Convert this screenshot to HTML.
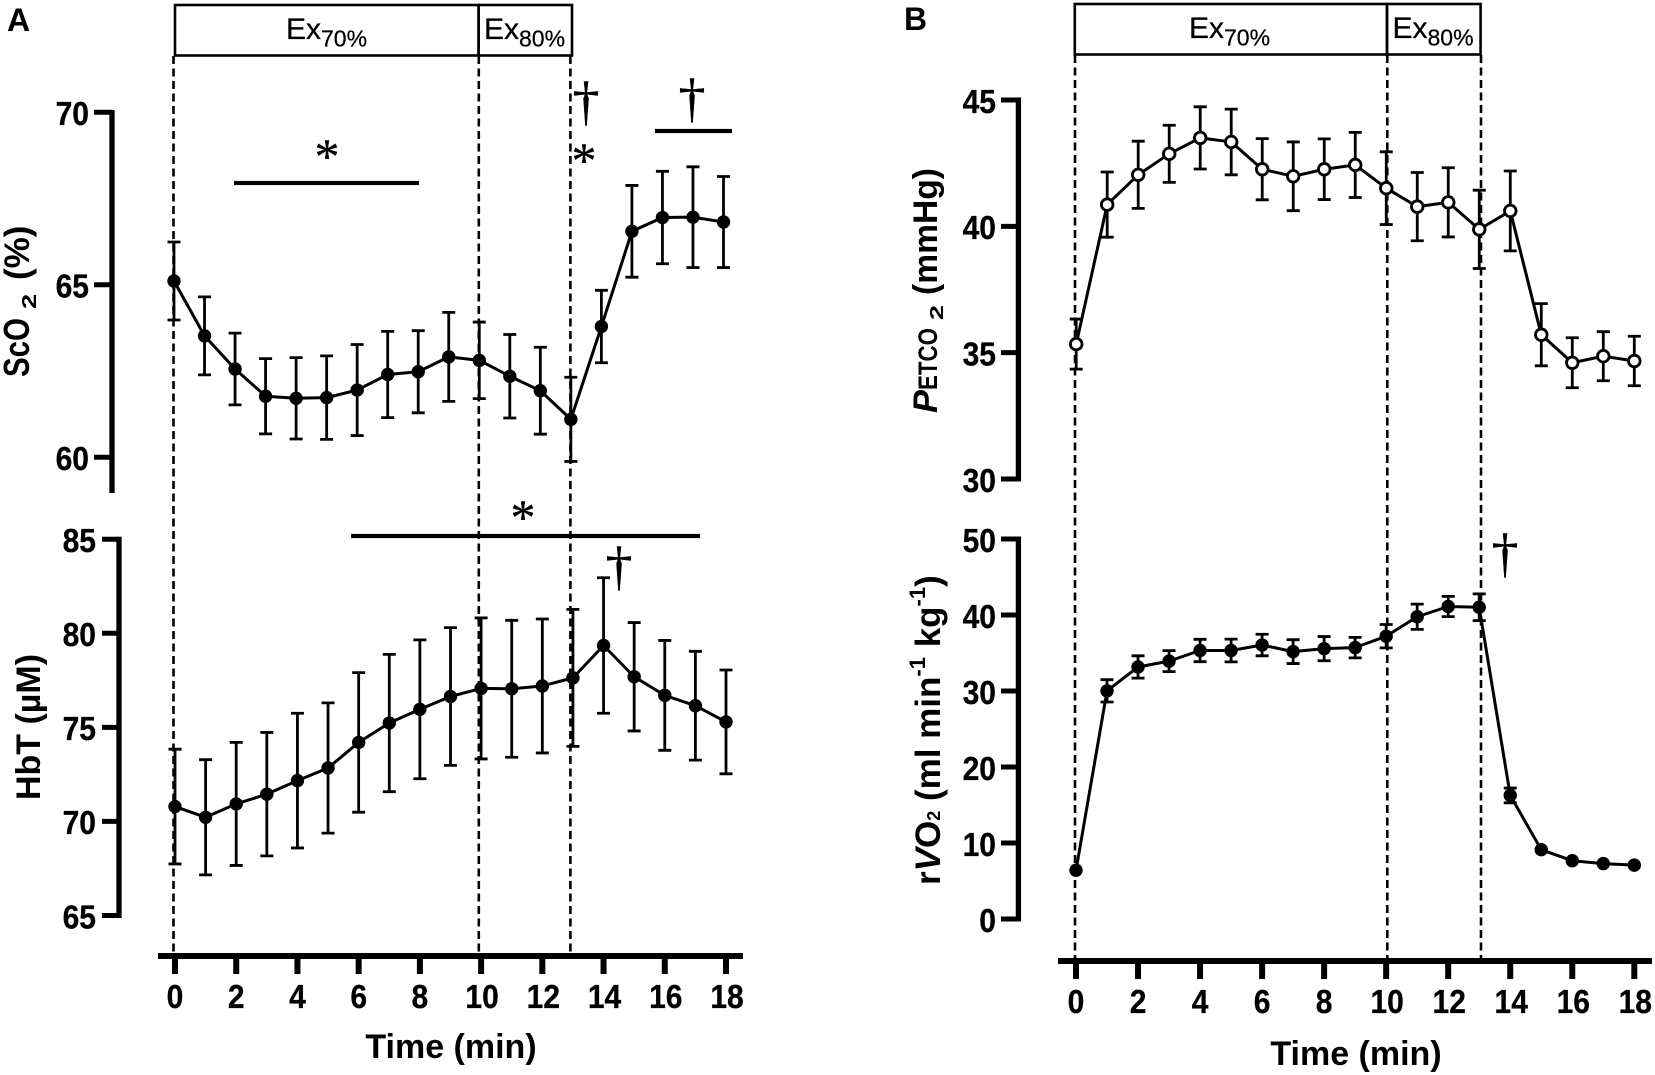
<!DOCTYPE html>
<html lang="en">
<head>
<meta charset="utf-8">
<title>ScO2, HbT, PETCO2 and rVO2 over time</title>
<style>
html,body{margin:0;padding:0;background:#fff;}
svg{display:block;}
text{font-family:"Liberation Sans",Arial,sans-serif;fill:#000;}
.tick{font-size:33px;font-weight:bold;stroke:#000;stroke-width:.3px;}
.title{font-size:34px;font-weight:bold;}
.mark{font-family:"Liberation Serif","Times New Roman",serif;text-anchor:middle;stroke:#000;stroke-width:.4px;}
.ex{font-size:30px;stroke:#000;stroke-width:.25px;}
</style>
</head>
<body>
<svg id="chart" xmlns="http://www.w3.org/2000/svg" width="1655" height="1075" viewBox="0 0 1655 1075">
  <rect x="0" y="0" width="1655" height="1075" fill="#fff"/>

  <text x="7" y="31" font-size="32" font-weight="bold">A</text>
  <text x="904" y="30" font-size="32" font-weight="bold">B</text>

  <g id="dashed"></g>

  <g fill="none" stroke="#000" stroke-width="2.6">
    <rect x="175" y="5" width="303.6" height="50.5"/>
    <rect x="478.6" y="5" width="93.4" height="50.5"/>
  </g>
  <text class="ex" x="286" y="39">Ex<tspan font-size="23" dy="7.5">70%</tspan></text>
  <text class="ex" x="484" y="39">Ex<tspan font-size="23" dy="7.5">80%</tspan></text>

  <g fill="none" stroke="#000" stroke-width="2.6">
    <rect x="1074.8" y="4" width="312.2" height="50.5"/>
    <rect x="1387" y="4" width="93.6" height="50.5"/>
  </g>
  <text class="ex" x="1189" y="38">Ex<tspan font-size="23" dy="7.5">70%</tspan></text>
  <text class="ex" x="1392.5" y="38">Ex<tspan font-size="23" dy="7.5">80%</tspan></text>

  <g id="plots"></g>

  <g>
    <text class="title" style="font-size:36px" textLength="59" lengthAdjust="spacingAndGlyphs" transform="translate(29,377) rotate(-90)">ScO</text>
    <text class="title" style="font-size:20px" transform="translate(36,309) rotate(-90) scale(1.36,1)">2</text>
    <text class="title" style="font-size:35px" transform="translate(29,280) rotate(-90)">(%)</text>
  </g>
  <text class="title" text-anchor="middle" transform="translate(40,727) rotate(-90)">HbT (µM)</text>
  <g>
    <text class="title" font-style="italic" style="font-size:34.5px" transform="translate(937,413) rotate(-90)">P</text>
    <text class="title" style="font-size:27px" textLength="62" lengthAdjust="spacingAndGlyphs" transform="translate(937,390) rotate(-90)">ETCO</text>
    <text class="title" style="font-size:18px" transform="translate(943,320) rotate(-90) scale(1.5,1)">2</text>
    <text class="title" style="font-size:34px" textLength="127" lengthAdjust="spacingAndGlyphs" transform="translate(937,295) rotate(-90)">(mmHg)</text>
  </g>
  <text class="title" style="font-size:35px" transform="translate(940,885) rotate(-90)">r<tspan font-style="italic">V</tspan>O<tspan font-size="18">2</tspan><tspan> (ml min</tspan><tspan font-size="22" dy="-15">-1</tspan><tspan dy="15"> kg</tspan><tspan font-size="22" dy="-15">-1</tspan><tspan dy="15">)</tspan></text>
  <text class="title" text-anchor="middle" x="451" y="1058">Time (min)</text>
  <text class="title" text-anchor="middle" x="1356" y="1065">Time (min)</text>

  <g>
    <rect x="234" y="180.9" width="185" height="4.2"/>
    <rect x="655" y="128.9" width="77" height="4.2"/>
    <rect x="351" y="533.9" width="349" height="4.2"/>
    <text class="mark" x="327" y="173" font-size="50">*</text>
    <text class="mark" x="584" y="177" font-size="50">*</text>
    <text class="mark" x="523" y="534" font-size="50">*</text>
    <text class="mark" x="586" y="119" font-size="54">†</text>
    <text class="mark" x="692" y="116" font-size="54">†</text>
    <text class="mark" x="619" y="584" font-size="54">†</text>
    <text class="mark" x="1505" y="571" font-size="54">†</text>
  </g>
</svg>

<script>
const minutes = [0,1,2,3,4,5,6,7,8,9,10,11,12,13,14,15,16,17,18];
const eventMinutes = [0,10,13];
const xTickLabels = [0,2,4,6,8,10,12,14,16,18];

const sco2Ticks = [60,65,70];
const sco2Values = [65.11,63.52,62.56,61.77,61.71,61.73,61.95,62.40,62.48,62.91,62.81,62.35,61.93,61.10,63.79,66.55,66.95,66.96,66.82];
const sco2Errors = [1.13,1.13,1.04,1.09,1.18,1.21,1.32,1.25,1.19,1.29,1.11,1.21,1.26,1.22,1.05,1.33,1.34,1.46,1.32];

const hbtTicks = [65,70,75,80,85];
const hbtValues = [70.79,70.22,70.93,71.45,72.17,72.84,74.20,75.23,75.96,76.64,77.07,77.05,77.20,77.63,79.35,77.69,76.70,76.15,75.29];
const hbtErrors = [3.05,3.06,3.27,3.28,3.58,3.46,3.71,3.65,3.69,3.66,3.75,3.64,3.56,3.64,3.60,2.88,2.92,2.89,2.76];

const petco2Ticks = [30,35,40,45];
const petco2Values = [35.34,40.86,42.04,42.87,43.50,43.34,42.26,41.98,42.26,42.43,41.51,40.78,40.95,39.88,40.61,35.71,34.60,34.86,34.67];
const petco2Errors = [0.99,1.29,1.33,1.13,1.23,1.30,1.21,1.36,1.20,1.29,1.44,1.35,1.37,1.55,1.58,1.23,0.99,0.97,0.98];

const rvo2Ticks = [0,10,20,30,40,50];
const rvo2Values = [6.42,30.02,33.16,33.93,35.33,35.33,36.05,35.18,35.57,35.71,37.21,39.77,41.12,41.02,16.26,9.12,7.67,7.29,7.09];
const rvo2Errors = [0,1.47,1.47,1.38,1.47,1.50,1.42,1.57,1.59,1.35,1.54,1.66,1.33,1.76,0.97,0,0,0,0];

const SVGNS = 'http://www.w3.org/2000/svg';
const plots = document.getElementById('plots');
const dashed = document.getElementById('dashed');

function scale(d0, d1, r0, r1) {
  return function (v) { return r0 + (v - d0) * (r1 - r0) / (d1 - d0); };
}
function node(parent, tag, props) {
  const n = document.createElementNS(SVGNS, tag);
  for (const k in props) n.setAttribute(k, props[k]);
  parent.appendChild(n);
  return n;
}
function drawLine(parent, name, x1, y1, x2, y2, width) {
  const l = node(parent, 'line', {x1: x1, y1: y1, x2: x2, y2: y2, stroke: '#000', 'stroke-width': width});
  
  
  return l;
}
function drawYAxis(name, ticks, yScale, axisX, tickLeft, labelRight, axisTop, axisBottom) {
  const g = node(plots, 'g', {});
  
  
  drawLine(g, name + '-line', axisX, axisTop, axisX, axisBottom, 5.3);
  ticks.forEach(function (t) {
    const y = yScale(t);
    drawLine(g, name + '-tick-' + t, tickLeft, y, axisX, y, 5);
    const label = node(g, 'text', {transform: 'translate(' + labelRight + ',' + (y + 12.8) + ') scale(0.91,1)', 'text-anchor': 'end', 'class': 'tick'});
    label.textContent = String(t);
    
    
  });
}
function drawXAxis(name, ticks, xScale, axisY, left, right, tickBottom, labelY) {
  const g = node(plots, 'g', {});
  
  
  drawLine(g, name + '-line', left, axisY, right, axisY, 6);
  ticks.forEach(function (t) {
    const x = xScale(t);
    drawLine(g, name + '-tick-' + t, x, axisY, x, tickBottom, 6);
    const label = node(g, 'text', {transform: 'translate(' + (x + (t >= 10 ? 1 : 0)) + ',' + labelY + ') scale(0.91,1)', 'text-anchor': 'middle', 'class': 'tick'});
    label.textContent = String(t);
    
    
  });
}
function drawSeries(name, xs, values, errors, xScale, yScale, filled) {
  const g = node(plots, 'g', {});
  
  
  xs.forEach(function (m, i) {
    if (errors[i] <= 0) return;
    const x = xScale(m);
    const hi = yScale(values[i] + errors[i]);
    const lo = yScale(values[i] - errors[i]);
    const bar = node(g, 'path', {
      d: 'M' + (x - 6.5) + ' ' + hi + 'H' + (x + 6.5) + 'M' + x + ' ' + hi + 'V' + lo + 'M' + (x - 6.5) + ' ' + lo + 'H' + (x + 6.5),
      fill: 'none', stroke: '#000', 'stroke-width': 2.8
    });
    
    
  });
  const pts = xs.map(function (m, i) { return xScale(m) + ',' + yScale(values[i]); }).join(' ');
  const line = node(g, 'polyline', {points: pts, fill: 'none', stroke: '#000', 'stroke-width': 3, 'stroke-linejoin': 'round'});
  
  
  xs.forEach(function (m, i) {
    const c = node(g, 'circle', {
      cx: xScale(m), cy: yScale(values[i]),
      r: filled ? 6.7 : 5.8,
      fill: filled ? '#000' : '#fff',
      stroke: '#000', 'stroke-width': filled ? 0 : 2.8
    });
    
    
  });
}
function drawEvents(name, times, xScale, y1, y2) {
  times.forEach(function (t) {
    const l = node(dashed, 'line', {x1: xScale(t), x2: xScale(t), y1: y1, y2: y2, stroke: '#000', 'stroke-width': 2.6, 'stroke-dasharray': '8 4.5'});
    
    
  });
}

const xATop = scale(0, 18, 174, 723.5);
const xABottom = scale(0, 18, 175, 726);
const xBTop = scale(0, 18, 1076.2, 1634.3);
const xBBottom = scale(0, 18, 1076, 1634.3);
const xBEvents = scale(0, 13, 1075, 1481);

const ySco2 = scale(60, 70, 457.3, 112.3);
const yHbt = scale(65, 85, 915.5, 539.2);
const yPetco2 = scale(30, 45, 479, 100);
const yRvo2 = scale(0, 50, 919, 539);

drawEvents('panel-a', eventMinutes, scale(0, 13, 173.5, 570.4), 56, 954);
drawEvents('panel-b', eventMinutes, xBEvents, 55, 958);

drawYAxis('sco2-y-axis', sco2Ticks, ySco2, 112, 94, 89, 110, 493);
drawYAxis('hbt-y-axis', hbtTicks, yHbt, 119, 102, 96, 536.7, 918);
drawYAxis('petco2-y-axis', petco2Ticks, yPetco2, 1018.4, 1001, 996, 97.5, 481.5);
drawYAxis('rvo2-y-axis', rvo2Ticks, yRvo2, 1018.4, 1001, 996, 536.5, 921.5);

drawXAxis('x-axis-a', xTickLabels, xABottom, 956, 158, 743, 974, 1008);
drawXAxis('x-axis-b', xTickLabels, xBBottom, 961, 1058, 1652, 979, 1013);

drawSeries('sco2', minutes, sco2Values, sco2Errors, xATop, ySco2, true);
drawSeries('hbt', minutes, hbtValues, hbtErrors, xABottom, yHbt, true);
drawSeries('petco2', minutes, petco2Values, petco2Errors, xBTop, yPetco2, false);
drawSeries('rvo2', minutes, rvo2Values, rvo2Errors, xBBottom, yRvo2, true);
</script>
</body>
</html>
